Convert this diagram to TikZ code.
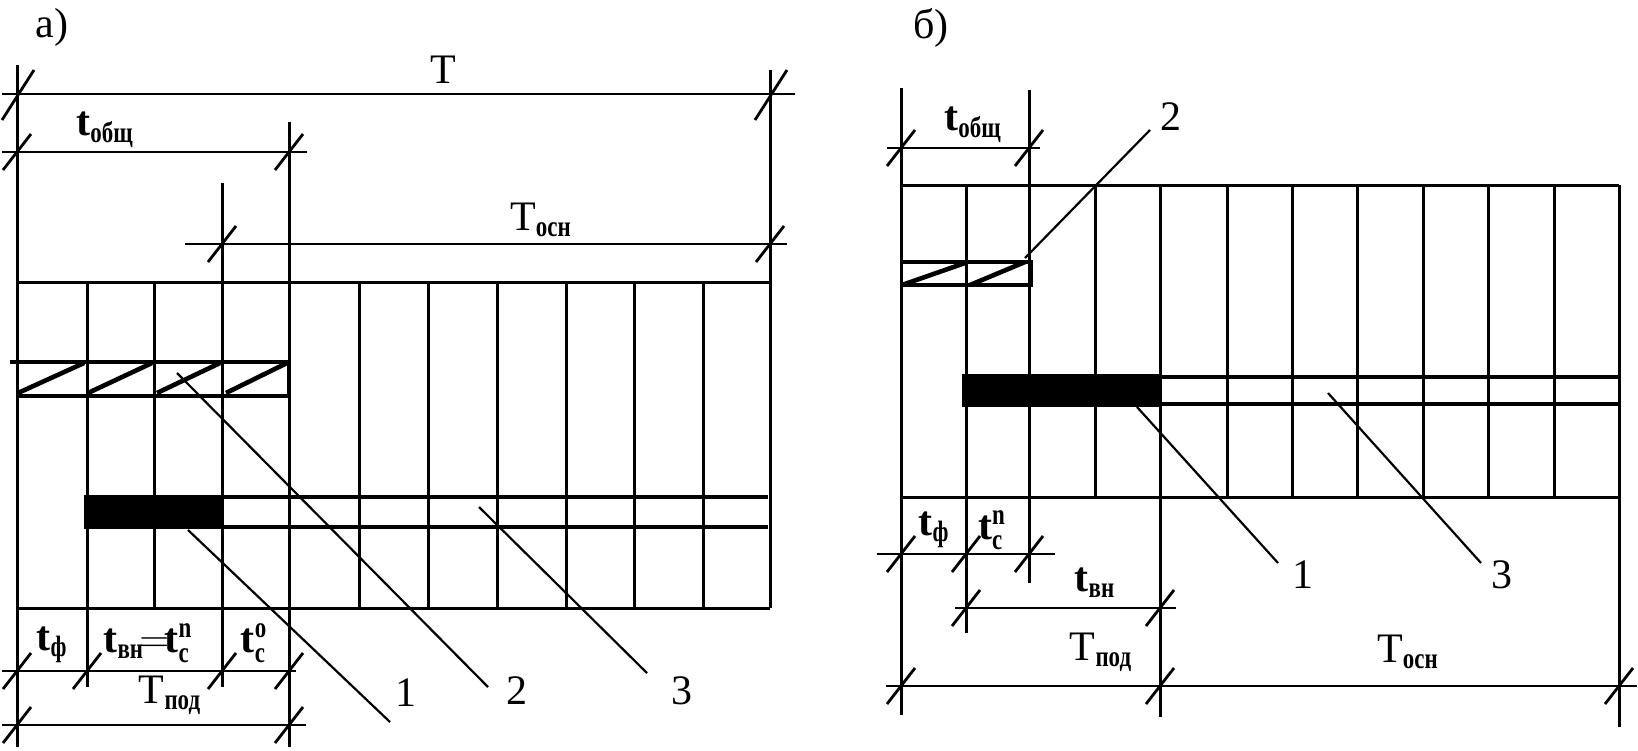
\documentclass[tikz,border=0pt]{standalone}
\usepackage{fontspec}
\usepackage{amsmath}
\usepackage{graphicx}
\setmainfont{Liberation Serif}
\newcommand\tb{\text{\bfseries t}}
\newcommand\sbb[1]{\text{\bfseries\scalebox{0.78}[1]{#1}}}
\begin{document}
\begin{tikzpicture}[x=0.5pt,y=-0.5pt,
  gl/.style={line width=1.5pt},
  dl/.style={line width=1.4pt},
  tl/.style={line width=1.4pt},
  bl/.style={line width=2.3pt},
  ll/.style={line width=1.1pt},
  lbl/.style={font=\fontsize{21}{25}\selectfont, inner sep=0pt},
  tickpic/.pic={\draw[tl] (-14,18) -- (14,-18);},
  bigtick/.pic={\draw[tl] (-15,26) -- (17,-24);}]
\useasboundingbox (0,0) rectangle (1638,750);

% ---------------- panel a ----------------
\node[lbl] (pa) at (52,27) {а)};
\foreach \x in {154,359,428,497,566,634,703} \draw[gl] (\x,282) -- (\x,608);
\draw[gl] (17,65) -- (17,747);
\draw[gl] (87,282) -- (87,687);
\draw[gl] (222,183) -- (222,687);
\draw[gl] (289,122) -- (289,747);
\draw[gl] (770,70) -- (770,608);
\draw[gl] (17,282) -- (770,282);
\draw[gl] (17,608) -- (770,608);
% dimension lines
\draw[dl] (2,94) -- (795,94);
\pic at (17,94) {bigtick}; \pic at (770,94) {bigtick};
\draw[dl] (2,152) -- (307,152);
\pic at (17,152) {tickpic}; \pic at (289,152) {tickpic};
\draw[dl] (185,244) -- (787,244);
\pic at (222,244) {tickpic}; \pic at (770,244) {tickpic};
\draw[dl] (2,671) -- (296,671);
\foreach \x in {17,87,222,289} \pic at (\x,671) {tickpic};
\draw[dl] (2,725) -- (306,725);
\pic at (17,725) {tickpic}; \pic at (289,725) {tickpic};
% hatched bar
\draw[bl] (10,362) -- (289,362) -- (289,396) -- (17,396);
\draw[bl] (18,393) -- (84,363);
\draw[bl] (88,393) -- (152,363);
\draw[bl] (157,393) -- (220,363);
\draw[bl] (226,393) -- (287,363);
% black bar and line
\fill (84,495) rectangle (222,529);
\draw[bl] (222,497) -- (768,497);
\draw[bl] (222,527) -- (768,527);
% labels
\node[lbl] (aT) at (443,70) {T};
\node[lbl] (aTosn) at (541,220) {T$_{\sbb{осн}}$};
\node[lbl] (atob) at (105,130) {$\tb_{\sbb{общ}}$};
\node[lbl] (atf) at (52,645) {$\tb_{\sbb{ф}}$};
\node[lbl] (atvn) at (148,643) {$\tb_{\sbb{вн}}\mkern-2mu{=}\mkern-2mu\tb^{\sbb{n}}_{\sbb{c}}$};
\node[lbl] (atco) at (254,643) {$\tb^{\sbb{o}}_{\sbb{c}}$};
\node[lbl] (aTpod) at (170,695) {T$_{\sbb{под}}$};
\node[lbl] (a1) at (406,693) {1};
\node[lbl] (a2) at (517,691) {2};
\node[lbl] (a3) at (682,691) {3};
\coordinate (a1s) at (188,530); \coordinate (a1e) at (390,722);
\coordinate (a2s) at (177,373); \coordinate (a2e) at (488,687);
\coordinate (a3s) at (479,507); \coordinate (a3e) at (647,673);
\draw[ll] (a1s) -- (a1e);
\draw[ll] (a2s) -- (a2e);
\draw[ll] (a3s) -- (a3e);

% ---------------- panel b ----------------
\node[lbl] (pb) at (931,28) {б)};
\foreach \x in {1095,1227,1292,1357,1423,1488,1554} \draw[gl] (\x,185) -- (\x,497);
\draw[gl] (901,88) -- (901,715);
\draw[gl] (966,185) -- (966,633);
\draw[gl] (1029,90) -- (1029,583);
\draw[gl] (1160,185) -- (1160,717);
\draw[gl] (1619,185) -- (1619,727);
\draw[gl] (901,185) -- (1619,185);
\draw[gl] (901,497) -- (1619,497);
% dimension lines
\draw[dl] (887,148) -- (1040,148);
\pic at (901,148) {tickpic}; \pic at (1029,148) {tickpic};
\draw[dl] (877,554) -- (1055,554);
\foreach \x in {901,966,1029} \pic at (\x,554) {tickpic};
\draw[dl] (955,608) -- (1176,608);
\pic at (966,608) {tickpic}; \pic at (1160,608) {tickpic};
\draw[dl] (886,686) -- (1637,686);
\foreach \x in {901,1160,1619} \pic at (\x,686) {tickpic};
% hatched bar
\draw[bl] (901,262) -- (1031,262) -- (1031,285) -- (901,285);
\draw[bl] (902,285) -- (965,263);
\draw[bl] (970,285) -- (1025,262);
% black bar and line
\fill (962,374) rectangle (1162,407);
\draw[bl] (1162,377) -- (1618,377);
\draw[bl] (1162,404) -- (1618,404);
% labels
\node[lbl] (btob) at (973,125) {$\tb_{\sbb{общ}}$};
\node[lbl] (btf) at (934,530) {$\tb_{\sbb{ф}}$};
\node[lbl] (btcn) at (992,530) {$\tb^{\sbb{n}}_{\sbb{c}}$};
\node[lbl] (btvn) at (1095,583) {$\tb_{\sbb{вн}}$};
\node[lbl] (bTpod) at (1101,652) {T$_{\sbb{под}}$};
\node[lbl] (bTosn) at (1408,652) {T$_{\sbb{осн}}$};
\node[lbl] (b1) at (1303,575) {1};
\node[lbl] (b2) at (1171,117) {2};
\node[lbl] (b3) at (1502,575) {3};
\coordinate (b1s) at (1137,407); \coordinate (b1e) at (1278,563);
\coordinate (b2s) at (1025,258); \coordinate (b2e) at (1150,130);
\coordinate (b3s) at (1328,393); \coordinate (b3e) at (1481,563);
\draw[ll] (b1s) -- (b1e);
\draw[ll] (b2s) -- (b2e);
\draw[ll] (b3s) -- (b3e);
\end{tikzpicture}
\end{document}
